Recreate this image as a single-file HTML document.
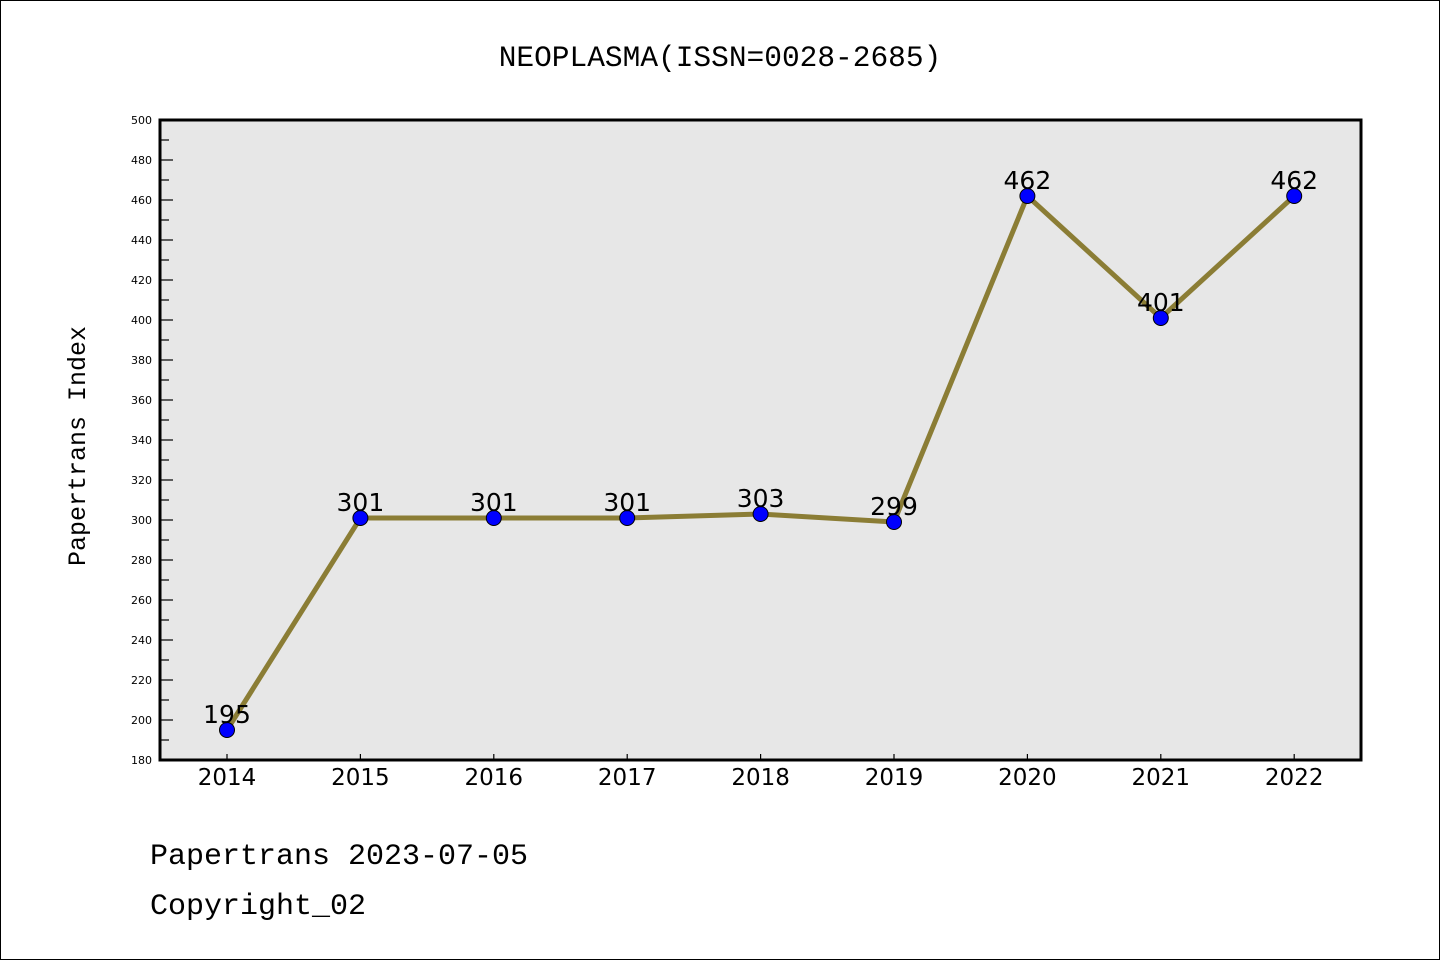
<!DOCTYPE html>
<html><head><meta charset="utf-8"><style>
body{margin:0;background:#fff}
svg{display:block}
</style></head><body>
<svg id="c" width="1440" height="960" xmlns="http://www.w3.org/2000/svg">
<rect x="0.5" y="0.5" width="1439" height="959" fill="#fff" stroke="#000"/>
<text x="720" y="66" text-anchor="middle" font-family="Liberation Mono, monospace" font-size="29.5">NEOPLASMA(ISSN=0028-2685)</text>
<rect x="160" y="120" width="1201" height="640" fill="#e7e7e7"/>
<g id="axes"></g>
<g id="marks"></g>
<rect x="160" y="120" width="1201" height="640" fill="none" stroke="#000" stroke-width="3"/>
<text transform="translate(85,446) rotate(-90)" text-anchor="middle" font-family="Liberation Mono, monospace" font-size="25">Papertrans Index</text>
<text x="150" y="864" font-family="Liberation Mono, monospace" font-size="30">Papertrans 2023-07-05</text>
<text x="150" y="914" font-family="Liberation Mono, monospace" font-size="30">Copyright_02</text>
</svg>
<script>
const years=["2014","2015","2016","2017","2018","2019","2020","2021","2022"];
const values=[195,301,301,301,303,299,462,401,462];
const yTicks=[180,200,220,240,260,280,300,320,340,360,380,400,420,440,460,480,500];
const NS="http://www.w3.org/2000/svg";
const yMin=180,yMax=500;
function ys(v){return 760-(v-yMin)/(yMax-yMin)*640;}
function xs(i){return 227+i*133.4;}
function mk(t,a,p){const e=document.createElementNS(NS,t);for(const k in a)e.setAttribute(k,a[k]);p.appendChild(e);return e;}
const ax=document.getElementById('axes'),mg=document.getElementById('marks');
yTicks.forEach((v,i)=>{
 const y=ys(v);
 const l=mk('line',{x1:160,x2:173,y1:y,y2:y,stroke:'#000','stroke-width':1.2},ax);
 
 
 const t=mk('text',{x:152,y:y+4,'text-anchor':'end','font-family':'DejaVu Sans, sans-serif','font-size':11},ax);
 t.textContent=v;
 
 
 if(i<yTicks.length-1){const m=ys(v+10);
 const n=mk('line',{x1:160,x2:169,y1:m,y2:m,stroke:'#000','stroke-width':1.2},ax);
 
 }
});
years.forEach((yr,i)=>{
 const x=xs(i);
 const l=mk('line',{x1:x,x2:x,y1:760,y2:754,stroke:'#000','stroke-width':1.2},ax);
 
 
 const t=mk('text',{x:x,y:785,'text-anchor':'middle','font-family':'DejaVu Sans, sans-serif','font-size':23},ax);
 t.textContent=yr;
 
 
});
const pl=mk('polyline',{points:values.map((v,i)=>xs(i)+','+ys(v)).join(' '),fill:'none',stroke:'#8b7d35','stroke-width':5},mg);


values.forEach((v,i)=>{
 const c=mk('circle',{cx:xs(i),cy:ys(v),r:7.5,fill:'#0000ff',stroke:'#000','stroke-width':1},mg);
 
 
 const t=mk('text',{x:xs(i),y:ys(v)-7,'text-anchor':'middle','font-family':'DejaVu Sans, sans-serif','font-size':25},mg);
 t.textContent=v;
 
 
});
</script>
</body></html>
